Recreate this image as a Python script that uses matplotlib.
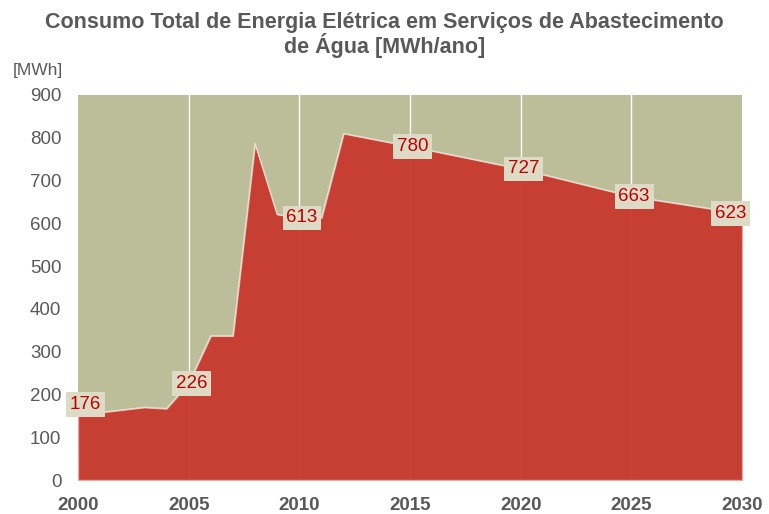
import matplotlib.pyplot as plt
import numpy as np

plt.rcParams['font.family'] = ['Liberation Sans', 'DejaVu Sans']

# yearly consumption (MWh/ano), vertices
years = [2000, 2001, 2003, 2004, 2005, 2006, 2007, 2008, 2009, 2010, 2011, 2012, 2015, 2020, 2025, 2030]
consumo = [176, 158, 170, 167, 226, 337, 337, 787, 621, 613, 613, 810, 780, 727, 663, 623]

label_years = [2000, 2005, 2010, 2015, 2020, 2025, 2030]
x_ticks = [2000, 2005, 2010, 2015, 2020, 2025, 2030]
y_ticks = [0, 100, 200, 300, 400, 500, 600, 700, 800, 900]

title = 'Consumo Total de Energia Elétrica em Serviços de Abastecimento\nde Água [MWh/ano]'

fig = plt.figure(figsize=(7.69, 5.14), dpi=100)
ax = fig.add_axes([0.1014, 0.0661, 0.8636, 0.7491])
ax.set_facecolor('#BCBE9A')

for x in x_ticks[1:-1]:
    ax.axvline(x, color='white', lw=1, zorder=1)

ax.fill_between(years, consumo, 0, facecolor=(200/255, 51/255, 42/255), alpha=0.92,
                edgecolor='#EBA8A0', lw=1, zorder=2)
ax.plot(years, consumo, color='#E3DFD0', lw=1, zorder=3)

for yr in label_years:
    v = consumo[years.index(yr)]
    # keep the end labels inside the plot area, like the original
    ha = 'left' if yr == x_ticks[0] else ('right' if yr == x_ticks[-1] else 'center')
    dx = -6 if yr == x_ticks[0] else (3 if yr == x_ticks[-1] else 2)
    ax.annotate(str(v), (yr, v), xytext=(dx, 0), textcoords='offset points',
                ha=ha, va='center', fontsize=13.5, color='#C00000', zorder=5,
                bbox=dict(boxstyle='square,pad=0.2', fc='#DDDBC6', ec='none'),
                annotation_clip=False)

ax.set_xlim(2000, 2030)
ax.set_ylim(0, 900)
ax.set_xticks(x_ticks)
ax.set_yticks(y_ticks)
ax.tick_params(length=0, labelsize=13.5, labelcolor='#595959')
ax.tick_params(axis='y', pad=12)
ax.tick_params(axis='x', pad=12)
for lbl in ax.get_xticklabels():
    lbl.set_fontweight('bold')
for s in ax.spines.values():
    s.set_visible(False)

fig.text(0.5, 1 - 35 / 514, title, ha='center', va='center', fontsize=15.5, fontweight='bold',
         color='#595959', linespacing=1.0)
fig.text(63 / 769, 1 - 71 / 514, '[MWh]', ha='right', va='center', fontsize=12.5, color='#595959')

fig.savefig('out.png', dpi=100)
